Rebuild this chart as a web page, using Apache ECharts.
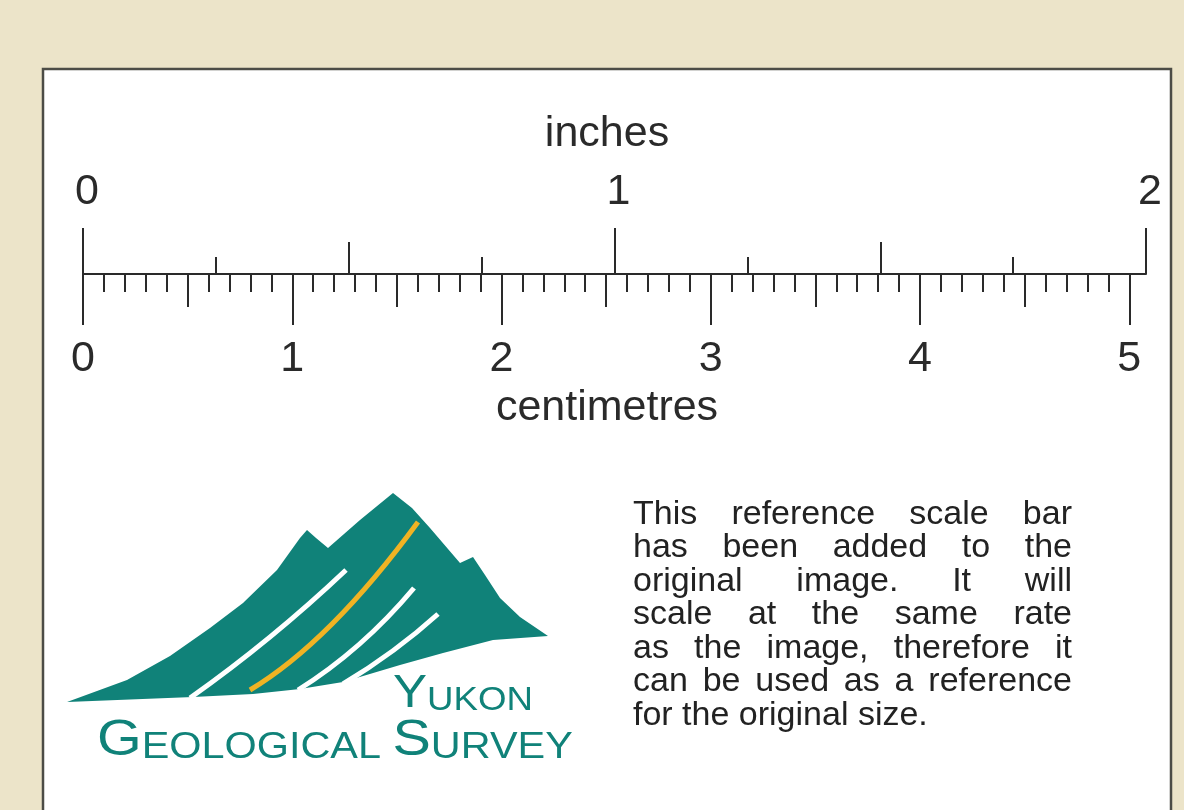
<!DOCTYPE html>
<html>
<head>
<meta charset="utf-8">
<script src="https://cdn.jsdelivr.net/npm/echarts@6/dist/echarts.min.js"></script>
<style>
html, body { margin: 0; padding: 0; background: #ece4c9; }
#chart { width: 1184px; height: 810px; }
</style>
</head>
<body>
<div id="chart"></div>
<script>
// ruler: inches above the line, centimetres below
var inchMax = 2;
var cmMax = 5.08;
var inchMajor = [0, 1, 2];
var inchHalf = [0.5, 1.5];
var inchQuarter = [0.25, 0.75, 1.25, 1.75];
var cmMajor = [0, 1, 2, 3, 4, 5];
var cmHalf = [0.5, 1.5, 2.5, 3.5, 4.5];
var cmMm = [0.1, 0.2, 0.3, 0.4, 0.6, 0.7, 0.8, 0.9,
  1.1, 1.2, 1.3, 1.4, 1.6, 1.7, 1.8, 1.9,
  2.1, 2.2, 2.3, 2.4, 2.6, 2.7, 2.8, 2.9,
  3.1, 3.2, 3.3, 3.4, 3.6, 3.7, 3.8, 3.9,
  4.1, 4.2, 4.3, 4.4, 4.6, 4.7, 4.8, 4.9, 5.0];
var note = [
  "This reference scale bar",
  "has been added to the",
  "original image. It will",
  "scale at the same rate",
  "as the image, therefore it",
  "can be used as a reference",
  "for the original size."
];

var ink = '#2a2a2a';
var teal = '#108279';
var font = "'Liberation Sans', Arial, sans-serif";

function tickAxis(pos, max, ticks, len) {
  return {
    type: 'value', position: pos, min: 0, max: max,
    axisLine: { show: false, onZero: false },
    splitLine: { show: false },
    axisTick: { show: true, customValues: ticks, length: len, lineStyle: { color: ink, width: 2 } },
    axisLabel: { show: false }
  };
}

var inchAxis = tickAxis('top', inchMax, inchMajor, 46);
inchAxis.axisLine = { show: true, onZero: false, lineStyle: { color: ink, width: 2 } };
inchAxis.axisLabel = { show: true, customValues: inchMajor, margin: 82, fontSize: 43,
  fontFamily: font, color: ink, verticalAlign: 'middle', padding: [0, 0, 0, 8] };
inchAxis.name = 'inches';
inchAxis.nameLocation = 'middle';
inchAxis.nameGap = 140;
inchAxis.nameTextStyle = { fontSize: 43, fontFamily: font, color: ink, verticalAlign: 'middle', padding: [0, 15, 0, 0] };

var cmAxis = tickAxis('bottom', cmMax, cmMajor, 51);
cmAxis.axisLabel = { show: true, customValues: cmMajor, margin: 85, fontSize: 43,
  fontFamily: font, color: ink, verticalAlign: 'middle' };
cmAxis.name = 'centimetres';
cmAxis.nameLocation = 'middle';
cmAxis.nameGap = 134;
cmAxis.nameTextStyle = { fontSize: 43, fontFamily: font, color: ink, verticalAlign: 'middle', padding: [0, 15, 0, 0] };

// justified note text, one word per element
var noteSize = 34;
var ctx = document.createElement('canvas').getContext('2d');
ctx.font = noteSize + "px 'Liberation Sans'";
var noteLeft = 633, noteRight = 1072, noteTop = 526, noteStep = 33.5;
var noteEls = [];
note.forEach(function (line, i) {
  var words = line.split(' ');
  var widths = words.map(function (w) { return ctx.measureText(w).width; });
  var total = widths.reduce(function (a, b) { return a + b; }, 0);
  var last = i === note.length - 1;
  var gap = last ? ctx.measureText(' ').width : (noteRight - noteLeft - total) / (words.length - 1);
  var x = noteLeft;
  var y = noteTop + i * noteStep - noteSize * 0.3465;
  words.forEach(function (w, j) {
    noteEls.push({ type: 'text', x: x, y: y, style: { text: w, fill: '#222', font: noteSize + 'px ' + font,
      align: 'left', verticalAlign: 'middle' } });
    x += widths[j] + gap;
  });
});

// Yukon Geological Survey logo
var logoOutline = [[67, 702], [127, 680], [170, 656], [210, 628], [243, 603], [277, 570], [300, 538], [307, 530],
  [316, 538], [328, 548], [360, 520], [393, 493], [412, 508], [430, 528], [460, 563], [473, 557],
  [485, 575], [500, 598], [520, 617], [548, 636],
  [493, 640], [443, 653], [400, 665], [343, 682], [300, 689], [253, 694], [193, 697]];
function stripe(x1, y1, cx, cy, x2, y2, color) {
  return { type: 'bezierCurve', shape: { x1: x1, y1: y1, cpx1: cx, cpy1: cy, x2: x2, y2: y2 },
    style: { stroke: color, lineWidth: 5, fill: null } };
}
var logo = [
  { type: 'polygon', shape: { points: logoOutline }, style: { fill: teal } },
  stripe(190, 698, 272, 640, 346, 570, '#fff'),
  stripe(250, 690, 330, 642, 418, 522, '#f0b323'),
  stripe(298, 690, 362, 650, 414, 588, '#fff'),
  stripe(343, 684, 396, 652, 438, 614, '#fff'),
  { type: 'text', x: 393, y: 717, scaleX: 1.11,
    style: { text: '{b|Y}{s|UKON}', fill: teal, align: 'left', verticalAlign: 'bottom',
      rich: { b: { fontSize: 46, fontFamily: font, verticalAlign: 'bottom', fill: teal },
              s: { fontSize: 33, fontFamily: font, verticalAlign: 'bottom', fill: teal } } } },
  { type: 'text', x: 97, y: 766, scaleX: 1.15,
    style: { text: '{b|G}{s|EOLOGICAL }{b|S}{s|URVEY}', fill: teal, align: 'left', verticalAlign: 'bottom',
      rich: { b: { fontSize: 50, fontFamily: font, verticalAlign: 'bottom', fill: teal },
              s: { fontSize: 36, fontFamily: font, verticalAlign: 'bottom', fill: teal } } } }
];

var chart = echarts.init(document.getElementById('chart'));
chart.setOption({
  backgroundColor: '#ece4c9',
  animation: false,
  grid: { left: 83, right: 38, top: 274, height: 0 },
  xAxis: [
    inchAxis,
    tickAxis('top', inchMax, inchHalf, 32),
    tickAxis('top', inchMax, inchQuarter, 17),
    cmAxis,
    tickAxis('bottom', cmMax, cmHalf, 33),
    tickAxis('bottom', cmMax, cmMm, 18)
  ],
  yAxis: { type: 'value', show: false, min: 0, max: 1 },
  series: [],
  graphic: [
    { type: 'rect', z: -1, shape: { x: 43, y: 69, width: 1128, height: 760 },
      style: { fill: '#fff', stroke: '#4c4c46', lineWidth: 2.5 } }
  ].concat(logo, noteEls)
});
</script>
</body>
</html>
